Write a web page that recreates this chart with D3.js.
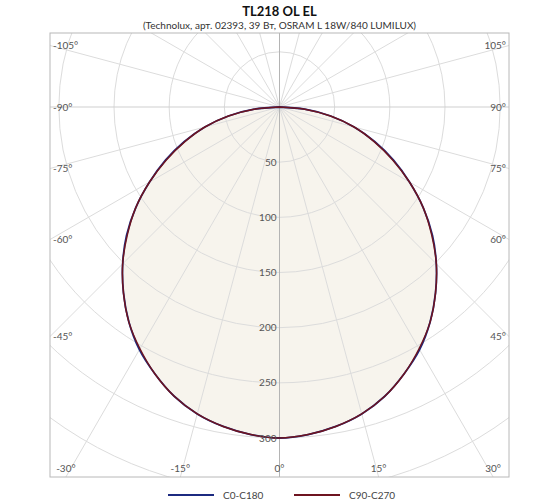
<!DOCTYPE html>
<html>
<head>
<meta charset="utf-8">
<script src="https://cdn.jsdelivr.net/npm/d3@7"></script>
<style>
  body { margin: 0; background: #fff; }
  text { font-family: Lato, "DejaVu Sans", sans-serif; }
</style>
</head>
<body>
<div class="canvas"></div>
<script>
// gamma angles (deg from nadir) and intensities, cd/klm
const gammas = [0, 5, 10, 15, 20, 25, 30, 35, 40, 45, 50, 55, 60, 65, 70, 75, 80, 85, 90];
const c0c180 = [300, 298, 294, 288, 279, 267, 254, 238, 220, 201, 181, 159, 136, 114, 92, 70, 47, 23, 0];
const c90c270 = [300, 298, 294, 288, 279, 267, 253, 238, 220, 201, 180, 159, 136, 113, 91, 70, 47, 23, 0];
const ringValues = [50, 100, 150, 200, 250, 300, 350, 400];
const ringLabels = [50, 100, 150, 200, 250, 300];
const angleLabels = [-105, -90, -75, -60, -45, -30, -15, 0, 15, 30, 45, 60, 75, 90, 105];
const seriesNames = ['C0-C180', 'C90-C270'];

const W = 560, H = 504;
const frame = { x0: 50, y0: 33, x1: 509, y1: 477 };
const cent = { x: 279.5, y: 107 };
const rad = d => d * Math.PI / 180;

const r = d3.scaleLinear().domain([0, 300]).range([0, 331]);
const colour = d3.scaleOrdinal(seriesNames, ['#1c2a80', '#6e1420']);

const svg = d3.select('.canvas').append('svg')
  .attr('width', W).attr('height', H);

// titles
svg.append('text')
  .attr('x', cent.x).attr('y', 16)
  .attr('text-anchor', 'middle')
  .attr('font-size', 13).attr('font-weight', 'bold').attr('fill', '#111')
  .text('TL218 OL EL');
svg.append('text')
  .attr('x', cent.x).attr('y', 29)
  .attr('text-anchor', 'middle')
  .attr('font-size', 10).attr('fill', '#333')
  .text('(Technolux, арт. 02393, 39 Вт, OSRAM L 18W/840 LUMILUX)');

svg.append('clipPath').attr('id', 'plotclip')
  .append('rect')
  .attr('x', frame.x0).attr('y', frame.y0)
  .attr('width', frame.x1 - frame.x0).attr('height', frame.y1 - frame.y0);

const plot = svg.append('g').attr('clip-path', 'url(#plotclip)');
const graph = plot.append('g').attr('transform', `translate(${cent.x},${cent.y})`);

// full curve from -90 to 90 (mirrored, symmetric planes)
const mirror = vals => {
  const pts = [];
  for (let i = gammas.length - 1; i > 0; i--) pts.push({ g: -gammas[i], v: vals[i] });
  gammas.forEach((g, i) => pts.push({ g: g, v: vals[i] }));
  return pts;
};

const lineRad = d3.lineRadial()
  .angle(d => Math.PI - rad(d.g))
  .radius(d => r(d.v))
  .curve(d3.curveCatmullRomClosed.alpha(0.5));

// fill
graph.append('path')
  .attr('d', lineRad(mirror(c90c270)))
  .attr('fill', '#f7f4ed')
  .attr('stroke', 'none');

// rings
graph.selectAll('circle.ring')
  .data(ringValues)
  .enter().append('circle')
    .attr('class', 'ring')
    .attr('r', d => r(d))
    .attr('fill', 'none')
    .attr('stroke', '#dcdcdc')
    .attr('stroke-width', 1);

// radial lines every 15 deg
const spokes = d3.range(-165, 195, 15).filter(a => a !== 0 && a !== 180);
graph.selectAll('line.spoke')
  .data(spokes)
  .enter().append('line')
    .attr('class', 'spoke')
    .attr('x1', 0).attr('y1', 0)
    .attr('x2', d => 700 * Math.sin(rad(d)))
    .attr('y2', d => 700 * Math.cos(rad(d)))
    .attr('stroke', d => Math.abs(d) === 90 ? '#cfcfcf' : '#dcdcdc')
    .attr('stroke-width', 1);

// vertical axis
graph.append('line')
  .attr('x1', 0).attr('y1', -200).attr('x2', 0).attr('y2', 500)
  .attr('stroke', '#b4b4b4').attr('stroke-width', 1);

// curves
[c0c180, c90c270].forEach((vals, i) => {
  graph.append('path')
    .attr('d', lineRad(mirror(vals)))
    .attr('fill', 'none')
    .attr('stroke', colour(seriesNames[i]))
    .attr('stroke-width', i === 0 ? 1.8 : 1.5);
});

// ring labels
graph.selectAll('text.ringlab')
  .data(ringLabels)
  .enter().append('text')
    .attr('class', 'ringlab')
    .attr('x', -3)
    .attr('y', d => r(d))
    .attr('dy', '0.35em')
    .attr('text-anchor', 'end')
    .attr('font-size', 10)
    .attr('fill', '#555')
    .text(d => d);

// frame
svg.append('rect')
  .attr('x', frame.x0).attr('y', frame.y0)
  .attr('width', frame.x1 - frame.x0).attr('height', frame.y1 - frame.y0)
  .attr('fill', 'none')
  .attr('stroke', '#b8b8b8').attr('stroke-width', 1);

// angle labels where spokes hit the frame
const hit = a => {
  const dx = Math.sin(rad(a)), dy = Math.cos(rad(a));
  let t = Infinity, side = 'bottom';
  if (dx < -1e-9) { const tt = (frame.x0 - cent.x) / dx; if (tt < t) { t = tt; side = 'left'; } }
  if (dx > 1e-9) { const tt = (frame.x1 - cent.x) / dx; if (tt < t) { t = tt; side = 'right'; } }
  if (dy > 1e-9) { const tt = (frame.y1 - cent.y) / dy; if (tt < t) { t = tt; side = 'bottom'; } }
  return { x: cent.x + t * dx, y: cent.y + t * dy, side: side };
};

svg.selectAll('text.anglab')
  .data(angleLabels)
  .enter().append('text')
    .attr('class', 'anglab')
    .each(function(a) {
      const h = hit(a);
      const s = d3.select(this);
      if (h.side === 'left') {
        s.attr('x', frame.x0 + 3).attr('y', h.y).attr('dy', '0.35em').attr('text-anchor', 'start');
      } else if (h.side === 'right') {
        s.attr('x', frame.x1 - 3).attr('y', h.y).attr('dy', '0.35em').attr('text-anchor', 'end');
      } else {
        const x = Math.max(frame.x0 + 13, Math.min(frame.x1 - 13, h.x));
        s.attr('x', x).attr('y', frame.y1 - 5).attr('text-anchor', 'middle');
      }
    })
    .attr('font-size', 10)
    .attr('fill', '#555')
    .text(a => a + '°');

// legend
const legendGroup = svg.append('g').attr('transform', 'translate(168,495)');
const legendItems = legendGroup.selectAll('g')
  .data(seriesNames)
  .enter().append('g')
    .attr('transform', (d, i) => `translate(${i * 126},0)`);
legendItems.append('line')
  .attr('x1', 0).attr('x2', 46).attr('y1', 0).attr('y2', 0)
  .attr('stroke', d => colour(d)).attr('stroke-width', 2);
legendItems.append('text')
  .attr('x', 55).attr('y', 0).attr('dy', '0.35em')
  .attr('font-size', 10).attr('fill', '#444')
  .text(d => d);
</script>
</body>
</html>
